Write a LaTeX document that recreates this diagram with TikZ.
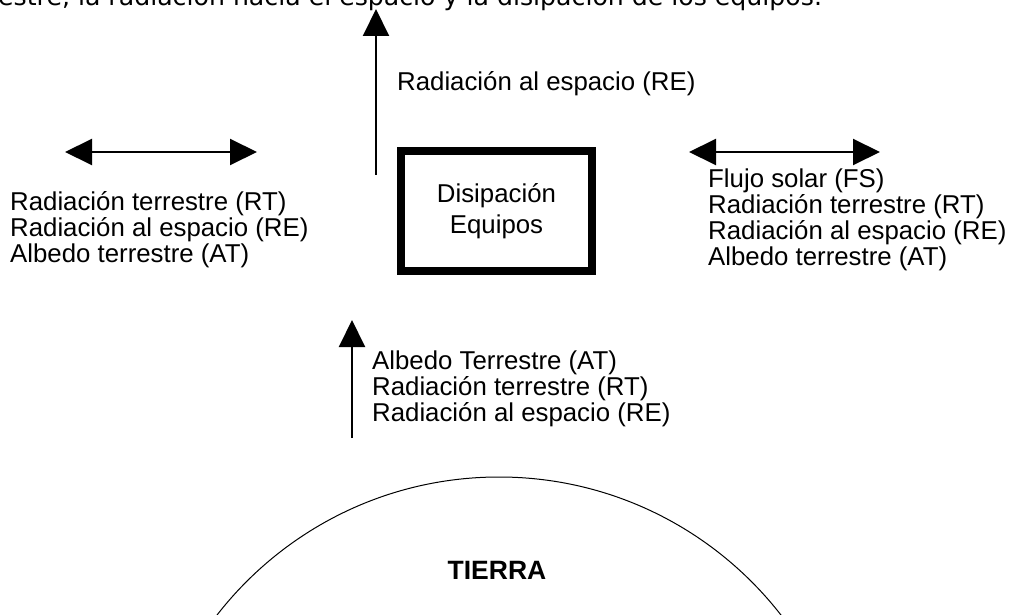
\documentclass[tikz,border=0pt]{standalone}
\usepackage{fontspec}
\setmainfont{Liberation Sans}
\newfontfamily\dejavu{DejaVu Sans}
\usetikzlibrary{arrows.meta}
\begin{document}
\begin{tikzpicture}[x=1pt,y=-1pt,
  lbl/.style={font=\fontsize{25.8}{26}\selectfont, align=left, inner sep=0pt, anchor=north west},
  flow/.style={line width=2pt, -{Triangle[length=27pt,width=26pt]}},
  both/.style={line width=2pt, {Triangle[length=27pt,width=26pt]}-{Triangle[length=27pt,width=26pt]}}]
\useasboundingbox (0,0) rectangle (1013,615);
\clip (0,0) rectangle (1013,615);
\node[font=\dejavu\fontsize{25.2}{30}\selectfont, inner sep=0pt, anchor=base west] (cap) at (-2,6) {estre, la radiación hacia el espacio y la disipación de los equipos.};
\node[draw, line width=8pt, minimum width=191pt, minimum height=120pt, inner sep=0pt,
      font=\fontsize{25.8}{31}\selectfont, align=center] (box) at (496.5,211) {Disipación\\Equipos};
\coordinate (upS) at (376,175);
\coordinate (upE) at (376,9);
\draw[flow] (upS) -- (upE);
\node[lbl] (re) at (397,71) {Radiación al espacio (RE)};
\coordinate (lA) at (65,152);
\coordinate (lB) at (257,152);
\draw[both] (lA) -- (lB);
\coordinate (rA) at (689,152);
\coordinate (rB) at (880,152);
\draw[both] (rA) -- (rB);
\node[lbl] (left) at (10,191) {Radiación terrestre (RT)\\Radiación al espacio (RE)\\Albedo terrestre (AT)};
\node[lbl] (right) at (708,169) {Flujo solar (FS)\\Radiación terrestre (RT)\\Radiación al espacio (RE)\\Albedo terrestre (AT)};
\coordinate (bS) at (352,438);
\coordinate (bE) at (352,320);
\draw[flow] (bS) -- (bE);
\node[lbl] (bot) at (372,351) {Albedo Terrestre (AT)\\Radiación terrestre (RT)\\Radiación al espacio (RE)};
\coordinate (earthC) at (499,834);
\draw[line width=1pt] (earthC) circle (357pt);
\node[font=\bfseries\fontsize{26.5}{30}\selectfont, inner sep=0pt] (tierra) at (497,570) {TIERRA};
\end{tikzpicture}
\end{document}
